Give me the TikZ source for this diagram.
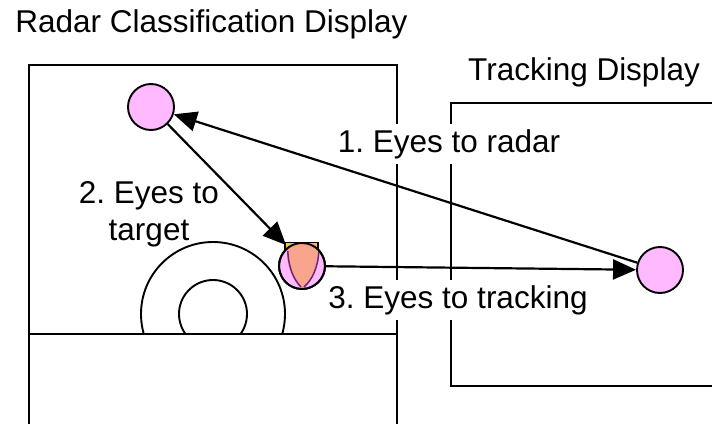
\documentclass[tikz,border=0pt]{standalone}
\usepackage{fontspec}
\setmainfont{Liberation Sans}
\usetikzlibrary{arrows.meta}
\definecolor{eyepink}{HTML}{FFBAFF}
\definecolor{salmon}{HTML}{F9A48C}
\definecolor{tyellow}{HTML}{F2CF1A}
\definecolor{tpurple}{HTML}{6A2878}
\tikzset{
  frame/.style={line width=2.2pt, line cap=rect},
  eye/.style={circle, draw=black, fill=eyepink, line width=1.9pt, minimum size=46pt, inner sep=0pt},
  lbl/.style={font=\fontsize{31.5}{37}\selectfont, inner sep=0pt, align=center},
  wlbl/.style={lbl, fill=white, inner xsep=1pt, inner ysep=5pt},
  conn/.style={line width=2.2pt, -{Triangle[length=23pt,width=20pt]}},
  ring/.style={line width=1.9pt}
}
\begin{document}
\frenchspacing
\begin{tikzpicture}[x=1pt,y=-1pt]
\useasboundingbox (0,0) rectangle (712,423);
% left display
\draw[frame] (29,423) -- (29,65) -- (397,65) -- (397,423);
\draw[frame] (29,334) -- (397,334);
% right display
\draw[frame] (712,103) -- (451,103) -- (451,386) -- (712,386);
% rings
\begin{scope}
\clip (100,200) rectangle (330,334);
\draw[ring] (213,314) circle[radius=72];
\draw[ring] (213,314) circle[radius=34];
\end{scope}
% titles
\node[lbl, anchor=base] (ttl1) at (211.5,32) {Radar Classification Display};
\node[lbl, anchor=base] (ttl2) at (584,80) {Tracking Display};
% eyes
\node[eye] (radar) at (151,107) {};
\node[eye] (track) at (660,270) {};
% target
\draw[fill=tyellow, line width=1.4pt] (285,251) -- (285,242.5) -- (318,242.5) -- (318,251);
\node[eye] (target) at (302,266) {};
\fill[salmon] (290,243) -- (315,243) .. controls (320,250) and (320,272) .. (302.5,289)
   .. controls (285,272) and (285,250) .. (290,243) -- cycle;
\draw[tpurple, line width=1.5pt] (287.8,251) .. controls (288.5,268) and (294,280) .. (301,287);
\draw[tpurple, line width=1.5pt] (318.8,251) .. controls (318,268) and (312,280) .. (304,287);
\draw[line width=1.9pt] (target) circle[radius=23];
\coordinate (tgtcorner) at (286,245);
% labels
\node[wlbl, anchor=base] (l1) at (449,152) {1. Eyes to radar};
\node[lbl, anchor=base] (l2) at (149,240) {2. Eyes to\\target};
\node[wlbl, anchor=base] (l3) at (458,308) {3. Eyes to tracking};
% connectors
\draw[conn] (track) -- (radar);
\draw[conn] (radar) -- (tgtcorner);
\draw[conn] (target) -- (track);
\end{tikzpicture}
\end{document}
